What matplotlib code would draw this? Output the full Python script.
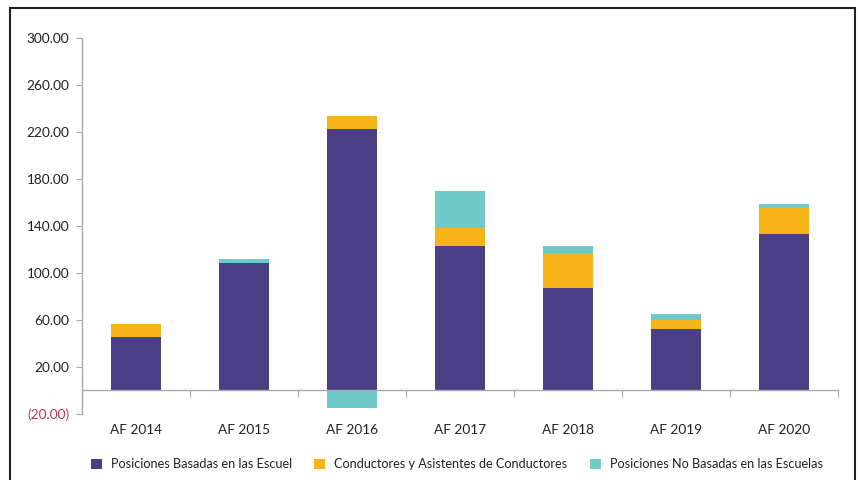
import numpy as np
import matplotlib
matplotlib.use("Agg")
import matplotlib.pyplot as plt
from matplotlib.patches import Patch, Rectangle
from matplotlib.ticker import FixedLocator, FuncFormatter

# ===== datos =====
years = ["AF 2014", "AF 2015", "AF 2016", "AF 2017", "AF 2018", "AF 2019", "AF 2020"]
escuelas = [45.8, 108.4, 223.0, 122.8, 87.2, 52.4, 133.0]
conductores = [10.8, 0.0, 11.0, 15.3, 30.0, 7.6, 22.0]
no_escuelas = [0.0, 3.4, -15.3, 31.4, 5.6, 5.0, 3.4]
labels = ["Posiciones Basadas en las Escuel",
          "Conductores y Asistentes de Conductores",
          "Posiciones No Basadas en las Escuelas"]
colors = ["#4B4085", "#F6B418", "#6FC9C9"]
yticks = [-20, 20, 60, 100, 140, 180, 220, 260, 300]

plt.rcParams['font.family'] = ['Lato', 'DejaVu Sans']
txt = "#231F20"
grey = "#A7A9AC"

fig = plt.figure(figsize=(8.58, 4.8), dpi=100)
ax = fig.add_axes([0.0952, 0.138, 0.8812, 0.782])

x = np.arange(len(years))
w = 0.46
esc = np.array(escuelas)
con = np.array(conductores)
noe = np.array(no_escuelas)
ax.bar(x, esc, w, color=colors[0], zorder=2)
ax.bar(x, con, w, bottom=esc, color=colors[1], zorder=2)
# barras negativas empiezan desde 0
bottom3 = np.where(noe >= 0, esc + con, 0)
ax.bar(x, noe, w, bottom=bottom3, color=colors[2], zorder=2)

ax.set_xlim(-0.5, len(years) - 0.5)
ax.set_ylim(-20, 300)

# ===== ejes =====
for s in ["top", "right"]:
    ax.spines[s].set_visible(False)
ax.spines["left"].set_color(grey)
ax.spines["bottom"].set_color(grey)
ax.spines["bottom"].set_position(("data", 0))
ax.spines["left"].set_linewidth(1.0)
ax.spines["bottom"].set_linewidth(1.0)

ax.yaxis.set_major_locator(FixedLocator(yticks))
ax.yaxis.set_major_formatter(FuncFormatter(
    lambda v, p: "(%.2f)" % abs(v) if v < 0 else "%.2f" % v))
ax.tick_params(axis="y", length=4, color=grey, labelsize=9.8, labelcolor=txt, pad=5)
for lab, v in zip(ax.get_yticklabels(), yticks):
    if v < 0:
        lab.set_color("#B0365B")

ax.xaxis.set_major_locator(FixedLocator(np.arange(0.5, len(years), 1.0)))
ax.xaxis.set_major_formatter(FuncFormatter(lambda v, p: ""))
ax.xaxis.set_minor_locator(FixedLocator(x))
ax.set_xticklabels(years, minor=True)
ax.tick_params(axis="x", which="major", length=5, color=grey, direction="out")
ax.tick_params(axis="x", which="minor", length=0, labelsize=9.8, labelcolor=txt, pad=24)

# ===== leyenda =====
handles = [Patch(facecolor=c, edgecolor="none") for c in colors]
fig.legend(handles, labels, loc="center left", bbox_to_anchor=(91 / 858, 0.033),
           ncol=3, frameon=False, fontsize=9.1, handlelength=0.85, handleheight=0.85,
           handletextpad=0.7, columnspacing=1.8, labelcolor=txt,
           borderpad=0, borderaxespad=0)

# ===== marco =====
fig.patches.append(Rectangle((10 / 858, -0.1), 845 / 858, 1.1 - 8 / 480,
                             transform=fig.transFigure, fill=False,
                             edgecolor="#231F20", linewidth=1.5))

fig.savefig("out.png", dpi=100)
